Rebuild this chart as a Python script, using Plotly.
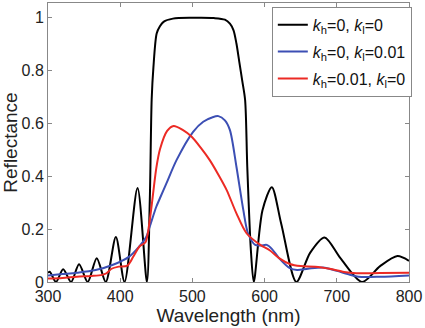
import plotly.graph_objects as go

# Wavelength (nm) / reflectance samples
black_wl = [300, 302.5, 311, 321, 332, 343, 355, 367.5, 380, 394, 406, 424, 437,
            441, 443.6, 446, 450.5, 455, 460, 473, 500, 530, 545, 552, 557, 561,
            565, 569, 573, 576, 581, 585, 597, 610, 623, 644, 663, 683, 705,
            735, 760, 784, 800]
black_r = [0.035, 0.039, 0.0, 0.048, 0.0, 0.067, 0.0, 0.09, 0.0, 0.17, 0.0, 0.355, 0.0,
           0.31, 0.69, 0.81, 0.938, 0.965, 0.982, 0.994, 0.997, 0.996, 0.99, 0.975, 0.95, 0.9,
           0.83, 0.76, 0.687, 0.435, 0.12, 0.0, 0.27, 0.358, 0.22, 0.0, 0.11, 0.168, 0.09,
           0.0, 0.06, 0.098, 0.08]

blue_wl = [300, 320, 340, 366, 390, 412, 425, 436, 441, 450, 455, 464, 478, 501, 515,
           528, 536, 545, 552, 561, 570.5, 577, 587, 595, 603, 610, 620, 635,
           645, 660, 681, 700, 715, 730, 760, 800]
blue_r = [0.025, 0.03, 0.035, 0.045, 0.065, 0.095, 0.13, 0.17, 0.21, 0.284, 0.316, 0.372, 0.46, 0.567, 0.605,
          0.622, 0.626, 0.61, 0.573, 0.435, 0.272, 0.184, 0.14, 0.138, 0.14, 0.125, 0.09, 0.052,
          0.045, 0.05, 0.055, 0.042, 0.03, 0.02, 0.02, 0.025]

red_wl = [300, 320, 340, 360, 375, 381, 388, 398, 410, 418, 427, 435, 441, 450,
          455, 465, 474, 486, 499, 512, 524, 536, 547.5, 561, 575, 594, 607, 620, 635,
          650, 670, 690, 710, 727, 760, 800]
red_r = [0.013, 0.015, 0.02, 0.023, 0.027, 0.033, 0.05, 0.058, 0.062, 0.095, 0.135, 0.15, 0.235, 0.43,
         0.5, 0.57, 0.589, 0.575, 0.548, 0.505, 0.46, 0.405, 0.347, 0.259, 0.184, 0.14, 0.12, 0.09, 0.068,
         0.06, 0.058, 0.05, 0.038, 0.033, 0.034, 0.035]

names = ["<i>k</i><sub>h</sub>=0, <i>k</i><sub>l</sub>=0",
         "<i>k</i><sub>h</sub>=0, <i>k</i><sub>l</sub>=0.01",
         "<i>k</i><sub>h</sub>=0.01, <i>k</i><sub>l</sub>=0"]
colors = ["#000000", "#3c4fb4", "#ec2a24"]

x_ticks = [300, 400, 500, 600, 700, 800]
y_ticks = [0, 0.2, 0.4, 0.6, 0.8, 1]
y_tick_text = ["0", "0.2", "0.4", "0.6", "0.8", "1"]

fig = go.Figure()
for i, (wl, r) in enumerate([(black_wl, black_r), (blue_wl, blue_r), (red_wl, red_r)]):
    fig.add_trace(go.Scatter(x=wl, y=r, mode="lines", name=names[i],
                             line=dict(color=colors[i], width=2, shape="spline", smoothing=0.8),
                             legendgroup=f"g{i}"))

font = dict(family="Liberation Sans, Arial, sans-serif", size=16, color="#222")
fig.update_layout(
    width=425, height=328,
    margin=dict(l=48, r=16, t=3, b=46, autoexpand=False),
    paper_bgcolor="white", plot_bgcolor="white",
    font=font,
    showlegend=True,
    legend=dict(x=0.62, y=0.986, xanchor="left", yanchor="top",
                bgcolor="white", bordercolor="#888", borderwidth=1,
                font=dict(family="Liberation Sans, Arial, sans-serif", size=16, color="#111"),
                tracegroupgap=3, itemwidth=30),
)
fig.update_xaxes(range=[300, 800], tickvals=x_ticks, ticks="inside", ticklen=4,
                 tickcolor="#888", showline=True, linecolor="#888", linewidth=1,
                 mirror="ticks", showgrid=False, zeroline=False, automargin=False,
                 title=dict(text="Wavelength (nm)", standoff=0), tickfont=font)
fig.update_yaxes(range=[0, 1.053], tickvals=y_ticks, ticktext=y_tick_text, ticks="inside",
                 ticklen=4, tickcolor="#888", showline=True, linecolor="#888", linewidth=1,
                 mirror="ticks", showgrid=False, zeroline=False, automargin=False,
                 title=dict(text="Reflectance", standoff=0), tickfont=font)

fig.write_html("out.html", config={"displayModeBar": False},
               post_script="document.body.style.margin='0';document.body.style.overflow='hidden';")
